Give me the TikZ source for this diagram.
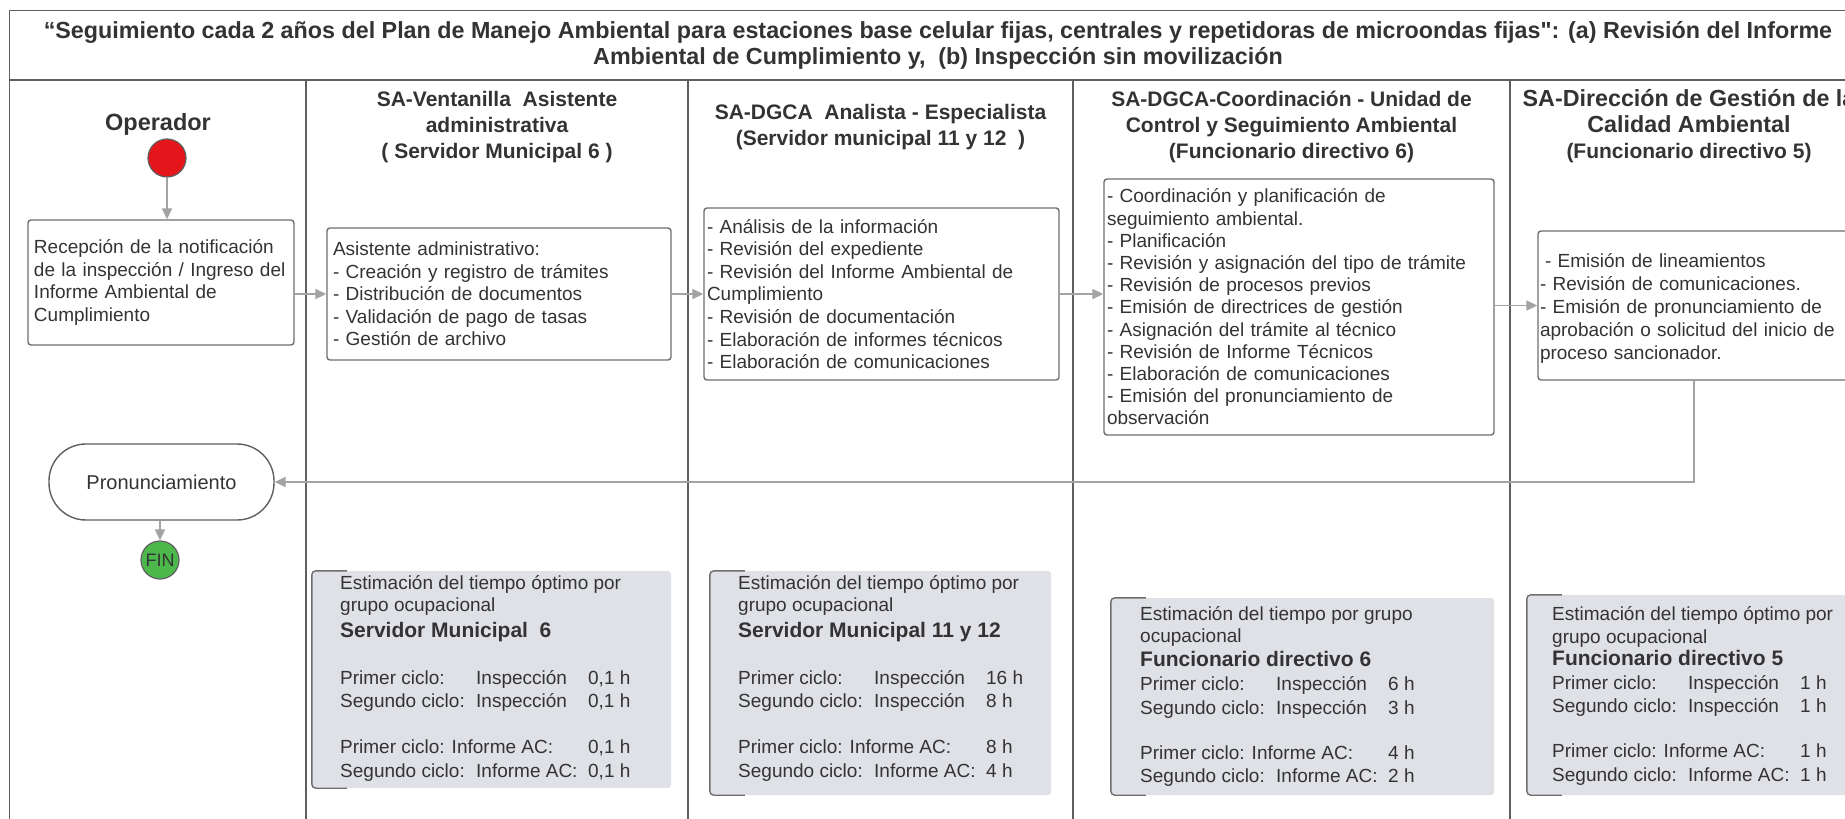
\documentclass[tikz,border=0pt]{standalone}
\usepackage{fontspec}
\setmainfont{Liberation Sans}
\usetikzlibrary{arrows.meta}
\definecolor{linegray}{HTML}{5F5F5F}
\definecolor{boxgray}{HTML}{6E6E6E}
\definecolor{arrowgray}{HTML}{A3A3A3}
\definecolor{txtgray}{HTML}{333333}
\definecolor{estfill}{HTML}{DFE1E6}
\definecolor{startred}{HTML}{E5161B}
\definecolor{fingreen}{HTML}{4CB84C}
\newcommand{\cicloline}[3]{\makebox[136pt][l]{#1}\makebox[112pt][l]{#2}#3}
\newcommand{\cicloac}[2]{\makebox[248pt][l]{#1}#2}
\newcommand{\bighdr}[1]{{\fontsize{23.3}{27}\selectfont #1}}
\newcommand{\straightquote}{{\addfontfeatures{Ligatures=TeXOff}\char34}}
\tikzstyle{lane} = [draw=linegray, line width=1.6pt]
\tikzstyle{hdr} = [align=center, font=\bfseries\fontsize{21}{26}\selectfont]
\tikzstyle{proc} = [draw=boxgray, line width=1.4pt, rounded corners=3pt, align=left, inner xsep=6pt, font=\fontsize{19}{22.6}\selectfont]
\tikzstyle{est} = [fill=estfill, rounded corners=3pt, inner sep=0pt]
\tikzstyle{esttext} = [anchor=base west, align=left, inner sep=0pt, font=\fontsize{19}{22.5}\selectfont]
\tikzstyle{bracket} = [draw=boxgray, line width=1.4pt, rounded corners=4pt]
\tikzstyle{flow} = [draw=arrowgray, line width=1.8pt, >={Triangle[length=11pt,width=10pt]}]
\tikzstyle{endpt} = [circle, draw=linegray, line width=1.2pt, minimum size=38pt, inner sep=0pt]

\begin{document}
\begin{tikzpicture}[x=1pt, y=-1pt, text=txtgray]
    \useasboundingbox (0,0) rectangle (1845,819);
    \draw[lane] (9.4,10.6) rectangle (1868,80);
    \node[font=\bfseries\fontsize{23.3}{26}\selectfont, align=center] (title) at (938,45.5)
        {“Seguimiento cada 2 años del Plan de Manejo Ambiental para estaciones base celular fijas, centrales y repetidoras de microondas fijas\straightquote: (a) Revisión del Informe\\Ambiental de Cumplimiento y,\ \ (b) Inspección sin movilización};
    \draw[lane] (9.4,80) -- (9.4,830);
    \foreach \x in {306,688,1073,1510}
        \draw[lane] (\x,80) -- (\x,830);

    \node[hdr, font=\bfseries\fontsize{23.5}{28}\selectfont] (oper) at (158,124) {Operador};
    \node[hdr] (ventanilla) at (497,127) {SA-Ventanilla\ \ Asistente\\administrativa\\( Servidor Municipal 6 )};
    \node[hdr] (dgca) at (880.5,127.5) {SA-DGCA\ \ Analista - Especialista\\(Servidor municipal 11 y 12\ \ )};
    \node[hdr] (ucsa) at (1291.5,127) {SA-DGCA-Coordinación - Unidad de\\Control y Seguimiento Ambiental\\(Funcionario directivo 6)};
    \node[hdr] (dgcal) at (1689,126) {\bighdr{SA-Dirección de Gestión de la}\\\bighdr{Calidad Ambiental}\\(Funcionario directivo 5)};

    \node[endpt, fill=startred] (start) at (167,158) {};
    \node[proc, text width=254pt, minimum width=266pt, minimum height=125pt] (recep) at (161,282.5)
        {Recepción de la notificación\\de la inspección / Ingreso del\\Informe Ambiental de\\Cumplimiento};
    \node[proc, text width=332pt, minimum width=344pt, minimum height=132pt] (asist) at (499,294)
        {Asistente administrativo:\\- Creación y registro de trámites\\- Distribución de documentos\\- Validación de pago de tasas\\- Gestión de archivo};
    \node[proc, inner xsep=3pt, text width=349pt, minimum width=355pt, minimum height=172pt] (desp) at (881.5,294)
        {- Análisis de la información\\- Revisión del expediente\\- Revisión del Informe Ambiental de\\Cumplimiento\\- Revisión de documentación\\- Elaboración de informes técnicos\\- Elaboración de comunicaciones};
    \node[proc, inner xsep=3pt, text width=384pt, minimum width=390pt, minimum height=256pt, font=\fontsize{19}{22.2}\selectfont] (coord) at (1299,307)
        {- Coordinación y planificación de\\seguimiento ambiental.\\- Planificación\\- Revisión y asignación del tipo de trámite\\- Revisión de procesos previos\\- Emisión de directrices de gestión\\- Asignación del trámite al técnico\\- Revisión de Informe Técnicos\\- Elaboración de comunicaciones\\- Emisión del pronunciamiento de\\observación};
    \node[proc, inner xsep=2pt, text width=308pt, minimum width=312pt, minimum height=149pt, font=\fontsize{19}{23}\selectfont] (emis) at (1694,305.5)
        {\rule{0pt}{19pt}\hspace*{5pt}- Emisión de lineamientos\\- Revisión de comunicaciones.\\- Emisión de pronunciamiento de\\aprobación o solicitud del inicio de\\proceso sancionador.};
    \node[draw=linegray, line width=1.4pt, rounded corners=37pt, minimum width=225pt, minimum height=76pt, font=\fontsize{20}{24}\selectfont] (pron) at (161.5,482) {Pronunciamiento};
    \node[endpt, fill=fingreen, font=\fontsize{18}{20}\selectfont] (fin) at (160,560) {FIN};

    \draw[flow,->] (start) -- (start |- recep.north);
    \draw[flow,->] (recep.east |- asist.west) -- (asist.west);
    \draw[flow,->] (asist.east) -- (asist.east -| desp.west);
    \draw[flow,->] (desp.east) -- (desp.east -| coord.west);
    \draw[flow,->] (coord.east |- emis.west) -- (emis.west);
    \draw[flow,->] (emis.south) |- (pron.east);
    \draw[flow,->] (pron.south -| fin) -- (fin.north);

    \node[est, minimum width=359pt, minimum height=217pt] (est1) at (491.5,679.5) {};
    \node[est, minimum width=341pt, minimum height=224pt] (est2) at (880.5,683) {};
    \node[est, minimum width=383pt, minimum height=197pt] (est3) at (1302.5,696.5) {};
    \node[est, minimum width=340pt, minimum height=200pt] (est4) at (1697,695) {};
    \foreach \e in {est1,est2,est3,est4}
        \draw[bracket] ([xshift=35pt]\e.north west) -- (\e.north west) -- (\e.south west) -- ([xshift=35pt]\e.south west);

    \node[esttext] (est1txt) at (340,777)
        {Estimación del tiempo óptimo por\\grupo ocupacional\\[3.5pt]
         {\bfseries\fontsize{21}{25}\selectfont Servidor Municipal\ \ 6}\\[24.5pt]
         \cicloline{Primer ciclo:}{Inspección}{0,1 h}\\
         \cicloline{Segundo ciclo:}{Inspección}{0,1 h}\\[23.5pt]
         \cicloac{Primer ciclo: Informe AC:}{0,1 h}\\[1.5pt]
         \cicloline{Segundo ciclo:}{Informe AC:}{0,1 h}};
    \node[esttext] (est2txt) at (738,777)
        {Estimación del tiempo óptimo por\\grupo ocupacional\\[3.5pt]
         {\bfseries\fontsize{21}{25}\selectfont Servidor Municipal 11 y 12}\\[24.5pt]
         \cicloline{Primer ciclo:}{Inspección}{16 h}\\
         \cicloline{Segundo ciclo:}{Inspección}{8 h}\\[23.5pt]
         \cicloac{Primer ciclo: Informe AC:}{8 h}\\[1.5pt]
         \cicloline{Segundo ciclo:}{Informe AC:}{4 h}};
    \node[esttext] (est3txt) at (1140,782)
        {Estimación del tiempo por grupo\\ocupacional\\[1.5pt]
         {\bfseries\fontsize{21}{25}\selectfont Funcionario directivo 6}\\[1.5pt]
         \cicloline{Primer ciclo:}{Inspección}{6 h}\\[1.5pt]
         \cicloline{Segundo ciclo:}{Inspección}{3 h}\\[22.5pt]
         \cicloac{Primer ciclo: Informe AC:}{4 h}\\
         \cicloline{Segundo ciclo:}{Informe AC:}{2 h}};
    \node[esttext] (est4txt) at (1552,781)
        {Estimación del tiempo óptimo por\\grupo ocupacional\\
         {\bfseries\fontsize{21}{25}\selectfont Funcionario directivo 5}\\[1.5pt]
         \cicloline{Primer ciclo:}{Inspección}{1 h}\\
         \cicloline{Segundo ciclo:}{Inspección}{1 h}\\[22.5pt]
         \cicloac{Primer ciclo: Informe AC:}{1 h}\\[1.5pt]
         \cicloline{Segundo ciclo:}{Informe AC:}{1 h}};
\end{tikzpicture}
\end{document}
